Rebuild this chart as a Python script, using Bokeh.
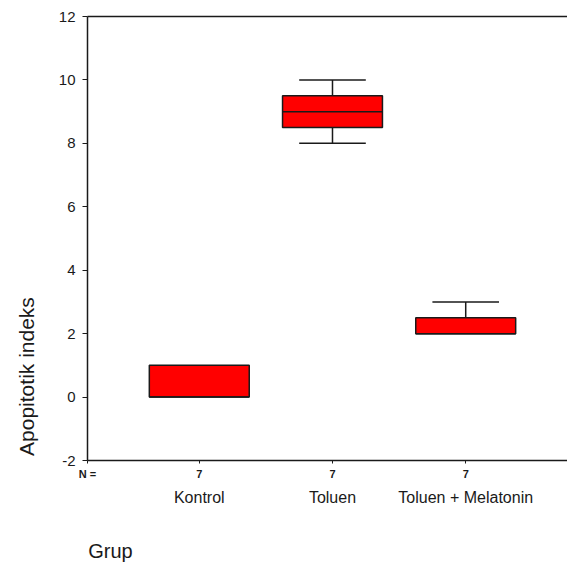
import math
from bokeh.plotting import figure
from bokeh.models import (LinearAxis, FixedTicker, Range1d, ColumnDataSource)
from bokeh.embed import file_html
from bokeh.resources import INLINE

# ---- data ----
groups = ["Kontrol", "Toluen", "Toluen + Melatonin"]
n_counts = [7, 7, 7]
positions = [1, 2, 3]
q1 = [0.0, 8.5, 2.0]
median = [0.0, 9.0, 2.0]
q3 = [1.0, 9.5, 2.5]
whisker_low = [0.0, 8.0, 2.0]
whisker_high = [1.0, 10.0, 3.0]
y_ticks = [-2, 0, 2, 4, 6, 8, 10, 12]
y_title = "Apopitotik indeks"
x_title = "Grup"

FONT = "Liberation Sans"
INK = "#1a1a1a"
BOX_W = 0.75
CAP_W = 0.5

x_start, x_end = 0.161, 3.764
y_start, y_end = -2, 12
y_title_pos = 3.15   # upper end of the rotated y title
x_title_pos = 0.333  # centre of the x title

p = figure(width=567, height=564, output_backend="svg", toolbar_location=None,
           x_range=Range1d(x_start, x_end), y_range=Range1d(y_start, y_end),
           min_border_left=86, min_border_right=0, min_border_top=16,
           min_border_bottom=104, x_axis_location=None, y_axis_location="left")
p.outline_line_color = None
p.xgrid.visible = False
p.ygrid.visible = False
p.background_fill_color = "white"
p.border_fill_color = "white"

# y axis
ya = p.yaxis[0]
ya.ticker = FixedTicker(ticks=y_ticks)
ya.major_label_overrides = {t: str(t) for t in y_ticks}
ya.axis_line_color = INK
ya.axis_line_width = 1.5
ya.major_tick_line_color = INK
ya.major_tick_line_width = 1.2
ya.major_tick_out = 5
ya.major_tick_in = 0
ya.minor_tick_line_color = None
ya.major_label_text_font = FONT
ya.major_label_text_font_size = "15px"
ya.major_label_text_color = INK
ya.major_label_standoff = 7

# y title as an outer axis with a single label
yt = LinearAxis(ticker=FixedTicker(ticks=[y_title_pos]),
                major_label_overrides={y_title_pos: y_title})
yt.axis_line_color = None
yt.major_tick_line_color = None
yt.minor_tick_line_color = None
yt.major_label_orientation = math.pi / 2
yt.major_label_text_font = FONT
yt.major_label_text_font_size = "21px"
yt.major_label_text_color = INK
yt.major_label_standoff = 23
p.add_layout(yt, "left")

# top border line
top = LinearAxis(ticker=FixedTicker(ticks=[]), major_tick_line_color=None,
                 minor_tick_line_color=None, axis_line_color=INK, axis_line_width=1.5)
p.add_layout(top, "above")

# bottom axis with N counts
n_ticks = [x_start] + positions
n_labels = {x_start: "N ="}
n_labels.update({pos: str(n) for pos, n in zip(positions, n_counts)})
nax = LinearAxis(ticker=FixedTicker(ticks=n_ticks), major_label_overrides=n_labels)
nax.axis_line_color = INK
nax.axis_line_width = 1.5
nax.major_tick_line_color = INK
nax.major_tick_out = 3
nax.major_tick_in = 0
nax.minor_tick_line_color = None
nax.major_label_text_font = FONT
nax.major_label_text_font_size = "11px"
nax.major_label_text_font_style = "bold"
nax.major_label_text_color = INK
nax.major_label_standoff = 4
p.add_layout(nax, "below")

# category names axis
cax = LinearAxis(ticker=FixedTicker(ticks=positions),
                 major_label_overrides={pos: g for pos, g in zip(positions, groups)})
cax.axis_line_color = None
cax.major_tick_line_color = None
cax.minor_tick_line_color = None
cax.major_label_text_font = FONT
cax.major_label_text_font_size = "16px"
cax.major_label_text_color = INK
cax.major_label_standoff = 0
p.add_layout(cax, "below")

# x title as an outer axis with a single label
xt = LinearAxis(ticker=FixedTicker(ticks=[x_title_pos]),
                major_label_overrides={x_title_pos: x_title})
xt.axis_line_color = None
xt.major_tick_line_color = None
xt.minor_tick_line_color = None
xt.major_label_text_font = FONT
xt.major_label_text_font_size = "20px"
xt.major_label_text_color = INK
xt.major_label_standoff = 25
p.add_layout(xt, "below")

# boxes
src = ColumnDataSource(dict(
    x=positions,
    left=[x - BOX_W / 2 for x in positions],
    right=[x + BOX_W / 2 for x in positions],
    q1=q1, q3=q3, med=median, lo=whisker_low, hi=whisker_high,
))

p.segment(x0="x", y0="q3", x1="x", y1="hi", source=src, line_color=INK, line_width=1.5)
p.segment(x0="x", y0="q1", x1="x", y1="lo", source=src, line_color=INK, line_width=1.5)
cap_hi = [i for i in range(3) if whisker_high[i] > q3[i]]
cap_lo = [i for i in range(3) if whisker_low[i] < q1[i]]
p.segment(x0=[positions[i] - CAP_W / 2 for i in cap_hi], y0=[whisker_high[i] for i in cap_hi],
          x1=[positions[i] + CAP_W / 2 for i in cap_hi], y1=[whisker_high[i] for i in cap_hi],
          line_color=INK, line_width=1.5)
p.segment(x0=[positions[i] - CAP_W / 2 for i in cap_lo], y0=[whisker_low[i] for i in cap_lo],
          x1=[positions[i] + CAP_W / 2 for i in cap_lo], y1=[whisker_low[i] for i in cap_lo],
          line_color=INK, line_width=1.5)

p.quad(left="left", right="right", bottom="q1", top="q3", source=src,
       fill_color="#ff0000", line_color=INK, line_width=1.5)
p.segment(x0="left", y0="med", x1="right", y1="med", source=src, line_color=INK, line_width=1.5)

open("out.html", "w").write(file_html(p, INLINE))
